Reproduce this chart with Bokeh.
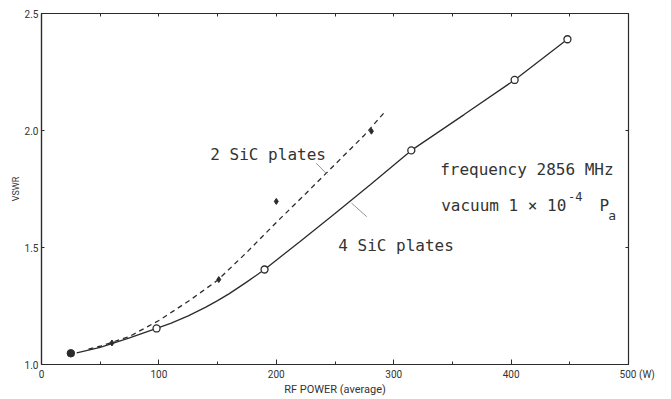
import math
from bokeh.plotting import figure
from bokeh.models import (Range1d, LinearAxis, FixedTicker, SingleIntervalTicker,
                          PrintfTickFormatter, Label)
from bokeh.embed import file_html
from bokeh.resources import INLINE

# ---- data ----
# 4 SiC plates: measured points (open circles) and fitted curve (solid)
four_x = [98, 190, 315, 403, 448]
four_y = [1.154, 1.406, 1.915, 2.216, 2.39]
four_curve_x = [30, 50, 75, 98, 110, 125, 140, 150, 160, 175, 190, 220, 250, 280,
                315, 360, 403, 448]
four_curve_y = [1.05, 1.073, 1.114, 1.154, 1.176, 1.208, 1.245, 1.273, 1.303, 1.353,
                1.406, 1.525, 1.645, 1.768, 1.915, 2.068, 2.216, 2.39]

# common starting point (filled dot)
start_x = [25]
start_y = [1.048]

# 2 SiC plates: measured points (small marks) and fitted curve (dashed)
two_x = [60, 151, 200, 281]
two_y = [1.092, 1.363, 1.697, 1.997]
two_curve_x = [40, 50, 75, 100, 125, 150, 175, 200, 225, 250, 275, 292]
two_curve_y = [1.066, 1.078, 1.12, 1.188, 1.27, 1.36, 1.48, 1.607, 1.73, 1.855, 1.98, 2.077]

y_ticks = [1.0, 1.5, 2.0, 2.5]
x_last_label = "500 (W)"

INK = "#2b2b2b"
TXT = "#333333"

p = figure(width=671, height=399, output_backend="svg", toolbar_location=None,
           x_range=Range1d(0, 500), y_range=Range1d(1.0, 2.5),
           min_border_left=41, min_border_right=43, min_border_top=13, min_border_bottom=35,
           background_fill_color="white", border_fill_color="white")
p.grid.visible = False
p.outline_line_color = INK
p.outline_line_width = 1.2

# bottom axis
xa = p.xaxis[0]
xa.ticker = SingleIntervalTicker(interval=100, num_minor_ticks=2)
xa.axis_line_color = INK
xa.axis_line_width = 1.2
xa.major_tick_in = 5
xa.major_tick_out = 0
xa.minor_tick_in = 3
xa.minor_tick_out = 0
xa.major_tick_line_color = INK
xa.minor_tick_line_color = INK
xa.major_label_text_font = "Roboto"
xa.major_label_text_font_size = "10px"
xa.major_label_text_color = TXT
xa.major_label_standoff = 4
# pad with no-break spaces so that "500" stays centred on its tick
xa.major_label_overrides = {500: "\u00a0" * 7 + x_last_label}
xa.axis_label = "RF POWER (average)"
xa.axis_label_text_font = "Roboto"
xa.axis_label_text_font_size = "11px"
xa.axis_label_text_font_style = "normal"
xa.axis_label_text_color = TXT
xa.axis_label_standoff = 0

# left axis
ya = p.yaxis[0]
ya.ticker = FixedTicker(ticks=y_ticks)
ya.formatter = PrintfTickFormatter(format="%.1f")
ya.axis_line_color = INK
ya.axis_line_width = 1.2
ya.major_tick_in = 3
ya.major_tick_out = 0
ya.minor_tick_line_color = None
ya.major_tick_line_color = INK
ya.major_label_text_font = "Roboto"
ya.major_label_text_font_size = "10px"
ya.major_label_text_color = TXT
ya.major_label_standoff = 3
ya.axis_label = "VSWR"
ya.axis_label_text_font = "Roboto"
ya.axis_label_text_font_size = "9px"
ya.axis_label_text_font_style = "normal"
ya.axis_label_text_color = TXT
ya.axis_label_standoff = 1

# top axis (ticks only)
ta = LinearAxis(ticker=SingleIntervalTicker(interval=50, num_minor_ticks=0),
                major_tick_in=3, major_tick_out=0, minor_tick_line_color=None,
                major_tick_line_color=INK, axis_line_color=INK,
                major_label_text_color=None, major_label_text_font_size="1px",
                major_label_standoff=0)
p.add_layout(ta, "above")

# right axis (ticks only)
ra = LinearAxis(ticker=FixedTicker(ticks=[1.5, 2.0]),
                major_tick_in=3, major_tick_out=0, minor_tick_line_color=None,
                major_tick_line_color=INK, axis_line_color=INK,
                major_label_text_color=None, major_label_text_font_size="1px",
                major_label_standoff=0)
p.add_layout(ra, "right")

# curves
p.line(four_curve_x, four_curve_y, line_color=INK, line_width=1.3)
p.line(two_curve_x, two_curve_y, line_color=INK, line_width=1.3, line_dash="5 4")

# points
p.scatter(four_x, four_y, marker="circle", size=7, fill_color="white",
          line_color=INK, line_width=1.3)
p.scatter(start_x, start_y, marker="circle", size=7.5, fill_color=INK, line_color=INK)
p.scatter(two_x, two_y, marker="diamond", size=6, fill_color=INK, line_color=INK)

# leader lines
p.line([234, 243.5], [1.860, 1.812], line_color="#888888", line_width=0.9)
p.line([264, 277], [1.690, 1.632], line_color="#888888", line_width=0.9)

MONO = "DejaVu Sans Mono"

def lab(x, y, text, size="16px", font=MONO, align="left", baseline="alphabetic"):
    p.add_layout(Label(x=x, y=y, text=text, text_font=font, text_font_size=size,
                       text_color=TXT, text_align=align, text_baseline=baseline))

lab(143.8, 1.897, "2 SiC plates")
lab(252.8, 1.509, "4 SiC plates")
lab(339.6, 1.833, "frequency 2856 MHz")
lab(340.4, 1.679, "vacuum 1 \u00d7 10")
lab(448.5, 1.716, "-4", size="12px")
lab(475.2, 1.679, "P")
lab(482.8, 1.637, "a", size="13px")

open("out.html", "w").write(file_html(p, INLINE))
